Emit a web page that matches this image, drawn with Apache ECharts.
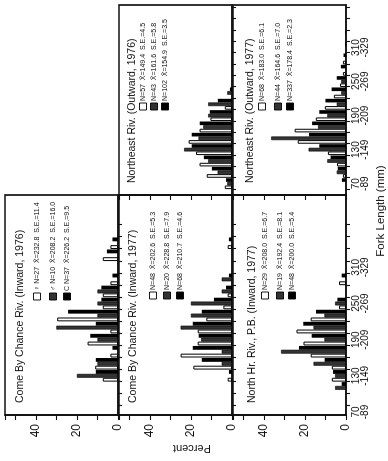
<!DOCTYPE html>
<html><head><meta charset="utf-8">
<script src="https://cdn.jsdelivr.net/npm/echarts@6/dist/echarts.min.js"></script>
<style>
html,body{margin:0;padding:0;background:#fff;overflow:hidden;width:388px;height:461px;}
#wrap{position:absolute;left:0;top:0;width:461px;height:388px;transform-origin:0 0;transform:translate(0px,461px) rotate(-90deg);background:#fff;}
#chart{width:461px;height:388px;}
</style></head><body>
<div id="wrap"><div id="chart"></div></div>
<script>
// Fork-length bins (lower bound, mm), 20 mm wide
const bins = [70,90,110,130,150,170,190,210,230,250,270,290,310,330,350,370];
const labelBins = [70,130,190,250,310];
const percentTicks = [0,20,40];

// Come By Chance Riv. (Inward, 1976)
const cbc76Female = [0,0,0,7.4,11.1,3.7,14.8,3.7,29.6,7.4,7.4,3.7,0,7.4,3.7,0];
const cbc76Male   = [0,0,0,20,10,0,10,30,10,10,10,0,0,0,0,0];
const cbc76All    = [0,0,0,10.8,10.8,2.7,13.5,10.8,24.3,8.1,8.1,2.7,0,5.4,2.7,0];
const cbc76Legend = ['\u2640 N=27  X\u0304=232.8  S.E.=11.4','\u2642 N=10  X\u0304=208.2  S.E.=16.0','C N=37  X\u0304=226.2  S.E.=9.5'];

// Come By Chance Riv. (Inward, 1977)
const cbc77Female = [0,0,0,2.1,18.8,25,16.7,16.7,12.5,4.2,2.1,0,0,0,2.1,0];
const cbc77Male   = [0,0,0,0,5,5,15,25,20,20,5,5,0,0,0,0];
const cbc77All    = [0,0,0,1.5,14.7,19.1,16.2,19.1,14.7,8.8,2.9,1.5,0,0,1.5,0];
const cbc77Legend = ['N=48  X\u0304=202.6  S.E.=5.3','N=20  X\u0304=228.8  S.E.=7.9','N=68  X\u0304=210.7  S.E.=4.6'];

// North Hr. Riv., P.B. (Inward, 1977)
const nhr77Female = [0,0,0,6.9,6.9,17.2,20.7,24.1,17.2,3.4,0,3.4,0,0,0,0];
const nhr77Male   = [0,0,5.3,5.3,15.8,31.6,10.5,15.8,10.5,5.3,0,0,0,0,0,0];
const nhr77All    = [0,0,2.1,6.3,10.4,22.9,16.7,20.8,14.6,4.2,0,2.1,0,0,0,0];
const nhr77Legend = ['N=29  X\u0304=208.0  S.E.=6.7','N=19  X\u0304=192.4  S.E.=8.1','N=48  X\u0304=200.0  S.E.=5.4'];

// Northeast Riv. (Outward, 1976)
const ne76Female = [3.5,12.3,15.8,17.5,21.1,15.8,10.5,3.5,0,0,0,0,0,0,0,0];
const ne76Male   = [2.3,7.0,11.6,23.3,16.3,14.0,11.6,11.6,2.3,0,0,0,0,0,0,0];
const ne76All    = [2.9,9.8,13.7,19.6,19.6,15.7,10.8,6.9,1.0,0,0,0,0,0,0,0];
const ne76Legend = ['N=57  X\u0304=149.4  S.E.=4.5','N=43  X\u0304=161.6  S.E.=5.8','N=102  X\u0304=154.9  S.E.=3.5'];

// Northeast Riv. (Outward, 1977)
const ne77Female = [0,1.5,4.4,8.8,23.5,25.0,14.7,10.3,5.9,2.9,1.5,1.5,0,0,0,0];
const ne77Male   = [0,4.5,9.1,18.2,36.4,13.6,9.1,4.5,2.3,2.3,0,0,0,0,0,0];
const ne77All    = [2,4,7.5,13,18,16.5,13,10,7,4.5,2.5,1.2,0.5,0.3,0,0];
const ne77Legend = ['N=68  X\u0304=183.0  S.E.=6.1','N=44  X\u0304=164.6  S.E.=7.0','N=337  X\u0304=178.4  S.E.=2.3'];

const FONT = '"Liberation Sans", Arial, sans-serif';
const panels = [
  {title:'Come By Chance Riv. (Inward, 1976)', series:[cbc76Female,cbc76Male,cbc76All], legend:cbc76Legend,
   grid:{left:46,top:5,width:220,height:113}, xr:[75,440], pct:true, fork:false, tY:15, lX:161, lY:[32,48,62]},
  {title:'Come By Chance Riv. (Inward, 1977)', series:[cbc77Female,cbc77Male,cbc77All], legend:cbc77Legend,
   grid:{left:46,top:119,width:220,height:113}, xr:[75,440], pct:true, fork:false, tY:14, lX:162, lY:[34,48,61]},
  {title:'North Hr. Riv., P.B. (Inward, 1977)', series:[nhr77Female,nhr77Male,nhr77All], legend:nhr77Legend,
   grid:{left:46,top:233,width:220,height:113}, xr:[75,440], pct:true, fork:true, tY:19, lX:162, lY:[32,47,59]},
  {title:'Northeast Riv. (Outward, 1976)', series:[ne76Female,ne76Male,ne76All], legend:ne76Legend,
   grid:{left:266,top:119,width:190,height:113}, xr:[60,395], pct:false, fork:false, tY:13, lX:351, lY:[24,35,46]},
  {title:'Northeast Riv. (Outward, 1977)', series:[ne77Female,ne77Male,ne77All], legend:ne77Legend,
   grid:{left:266,top:233,width:190,height:113}, xr:[60,395], pct:false, fork:true, tY:17, lX:351, lY:[29,45,57]}
];

const fills = ['#ffffff','#333333','#000000'];
const grids = [], xAxes = [], yAxes = [], series = [], graphics = [];
panels.forEach((p, i) => {
  grids.push(Object.assign({show:true, borderColor:'#111', borderWidth:1.7, backgroundColor:'transparent'}, p.grid));
  const tickVals = bins.concat([bins[bins.length-1]+20]).filter(b => b > p.xr[0] && b < p.xr[1]);
  xAxes.push({type:'value', gridIndex:i, min:p.xr[0], max:p.xr[1],
    axisLine:{show:true, lineStyle:{color:'#111', width:1.7}},
    axisTick:{show:true, customValues:tickVals, length:4, lineStyle:{color:'#111', width:1.1}},
    axisLabel:{show:p.fork, customValues:labelBins.map(b => b+10), color:'#111', fontFamily:FONT,
      fontSize:10, lineHeight:9, margin:6,
      formatter: v => (v-10) + '\n-' + (v+9)},
    splitLine:{show:false}});
  yAxes.push({type:'value', gridIndex:i, min:0, max:55, interval:10,
    axisLine:{show:true, lineStyle:{color:'#111', width:1.7}},
    axisTick:{show:true, length:5, lineStyle:{color:'#111', width:1.1}},
    axisLabel:{show:p.pct, color:'#111', fontFamily:FONT, fontSize:12, margin:9,
      formatter: v => percentTicks.indexOf(v) >= 0 ? String(v) : ''},
    splitLine:{show:false}});
  p.series.forEach((arr, s) => {
    const st = {color:fills[s]};
    if (s === 0) { st.borderColor = '#000'; st.borderWidth = 1; }
    if (s === 1) { st.borderColor = '#000'; st.borderWidth = 0.6; }
    series.push({type:'bar', xAxisIndex:i, yAxisIndex:i, barGap:'0%', barCategoryGap:'4%',
      silent:true, animation:false, itemStyle:st,
      data: bins.map((b, k) => [b+10, arr[k] > 0 ? arr[k] : '-'])});
  });
  graphics.push({type:'text', x:p.grid.left+12, y:p.grid.top+p.tY,
    style:{text:p.title, fill:'#111', font:'10.5px ' + FONT, verticalAlign:'middle', align:'left'}});
  p.legend.forEach((t, r) => {
    const yy = p.grid.top + p.lY[r];
    graphics.push({type:'rect', shape:{x:p.lX, y:yy-3.5, width:7, height:7},
      style:{fill:fills[r], stroke:'#000', lineWidth:0.9}});
    graphics.push({type:'text', x:p.lX+9, y:yy,
      style:{text:t, fill:'#111', font:'7px ' + FONT, verticalAlign:'middle', align:'left'}});
  });
});
graphics.push({type:'text', x:13, y:192, rotation:Math.PI/2,
  style:{text:'Percent', fill:'#111', font:'11px ' + FONT, align:'center', verticalAlign:'middle'}});
graphics.push({type:'text', x:250, y:381,
  style:{text:'Fork Length (mm)', fill:'#111', font:'11.5px ' + FONT, align:'center', verticalAlign:'middle'}});

const chart = echarts.init(document.getElementById('chart'), null, {renderer:'canvas', width:461, height:388});
chart.setOption({backgroundColor:'#ffffff', animation:false, grid:grids, xAxis:xAxes, yAxis:yAxes, series:series, graphic:graphics});
</script>
</body></html>
